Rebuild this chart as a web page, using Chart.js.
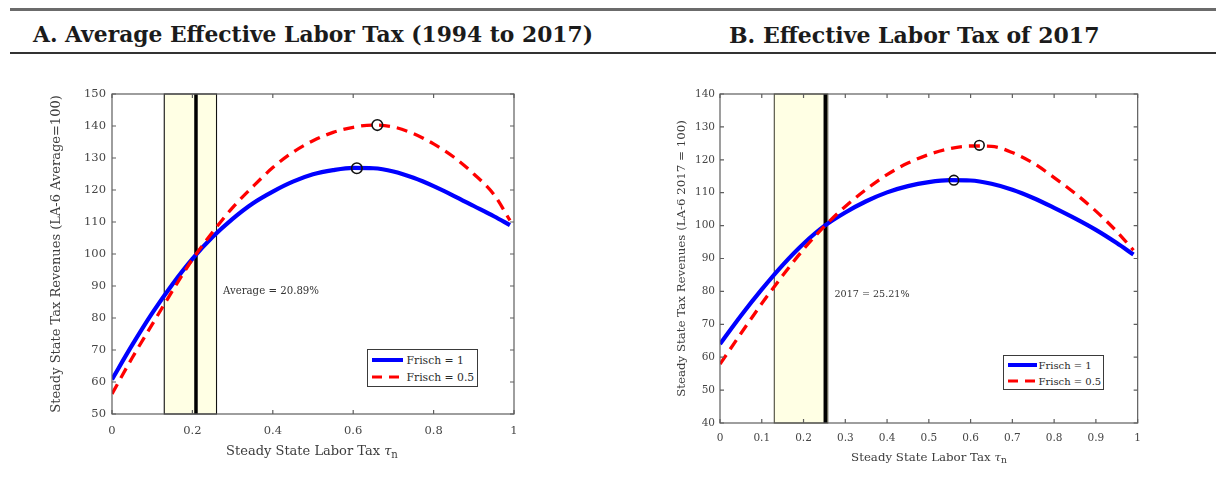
<!DOCTYPE html>
<html>
<head>
<meta charset="utf-8">
<script src="https://cdn.jsdelivr.net/npm/chart.js@4.4.1/dist/chart.umd.min.js"></script>
<style>
  html, body { margin:0; padding:0; background:#fff; }
  body { width:1216px; height:494px; overflow:hidden; position:relative; font-family:"DejaVu Serif", serif; }
  .abs { position:absolute; }
  .hline { position:absolute; left:10px; right:0; }
  .ptitle { position:absolute; top:24px; line-height:22px; font-family:"DejaVu Serif", serif; font-weight:bold; font-size:22px; color:#1b1b1b; white-space:nowrap; }
  .xtitle { position:absolute; white-space:nowrap; color:#3c3c3c; font-family:"DejaVu Serif", serif; transform:translateX(-50%); }
  .xtitle sub { font-size:0.78em; position:relative; top:0.25em; vertical-align:baseline; }
  .legend { position:absolute; box-sizing:border-box; border:1px solid #3a3a3a; background:#fff; }
  .legend svg { position:absolute; overflow:visible; }
  .legend span { position:absolute; white-space:nowrap; color:#2a2a2a; font-family:"DejaVu Serif", serif; transform:translateY(-50%); }
</style>
</head>
<body>
<div class="hline" style="top:8px;height:2.5px;background:#6b6b6b"></div>
<div class="ptitle" id="titleA" style="left:33px;font-size:21.8px"></div>
<div class="ptitle" id="titleB" style="left:729px"></div>
<div class="hline" style="top:52px;height:2px;background:#333"></div>

<div class="abs" style="left:20px;top:80px;width:510px;height:400px"><canvas id="chartA" width="510" height="400" style="width:510px;height:400px"></canvas></div>
<div class="abs" style="left:630px;top:80px;width:520px;height:400px"><canvas id="chartB" width="520" height="400" style="width:520px;height:400px"></canvas></div>

<div class="xtitle" id="xtitleA" style="left:312px;top:443px;font-size:13px;line-height:15px"></div>
<div class="xtitle" id="xtitleB" style="left:929px;top:450px;font-size:11.8px;line-height:14px"></div>

<div class="legend" id="legendA" style="left:367px;top:349px;width:111px;height:38px"></div>
<div class="legend" id="legendB" style="left:1003px;top:355px;width:101px;height:35px"></div>

<script>
// ---------- DATA ----------
const panelTitles = ['A. Average Effective Labor Tax (1994 to 2017)', 'B. Effective Labor Tax of 2017'];
const seriesNames = ['Frisch = 1', 'Frisch = 0.5'];
const xAxisTitle = 'Steady State Labor Tax';
const yTitleA = 'Steady State Tax Revenues (LA-6 Average=100)';
const yTitleB = 'Steady State Tax Revenues (LA-6 2017 = 100)';

// labor tax grid (x values)
const laborTax = [0, 0.05, 0.1, 0.15, 0.2, 0.25, 0.3, 0.35, 0.4, 0.45, 0.5, 0.55, 0.6, 0.65, 0.7, 0.75, 0.8, 0.85, 0.9, 0.95, 0.99];

// Panel A: average effective labor tax
const revenueA_frisch1  = [60.8, 71.5, 81.5, 90.5, 98.5, 105.3, 111.0, 115.8, 119.5, 122.6, 124.9, 126.2, 126.9, 126.8, 125.8, 123.8, 121.2, 118.2, 115.0, 111.8, 109.0];
const revenueA_frisch05 = [56.3, 67.5, 78.0, 88.4, 98.3, 106.8, 114.5, 121.0, 127.0, 131.8, 135.4, 138.0, 139.6, 140.3, 139.7, 137.6, 134.4, 130.3, 125.0, 118.6, 110.5];
const peakA = [{x:0.609, y:126.8}, {x:0.66, y:140.3}];
const bandA = [0.13, 0.26];
const taxA = 0.2089;
const noteA = 'Average = 20.89%';
const notePosA = [0.276, 88.4];
const xTicksA = [0, 0.2, 0.4, 0.6, 0.8, 1];
const xTickLabelsA = ['0', '0.2', '0.4', '0.6', '0.8', '1'];
const yTicksA = [50, 60, 70, 80, 90, 100, 110, 120, 130, 140, 150];

// Panel B: effective labor tax of 2017
const revenueB_frisch1  = [64.0, 72.6, 80.6, 88.0, 94.5, 99.9, 104.0, 107.4, 110.1, 112.0, 113.2, 113.8, 113.7, 112.7, 110.9, 108.4, 105.4, 102.2, 98.7, 94.7, 91.2];
const revenueB_frisch05 = [57.9, 67.2, 76.3, 84.8, 92.8, 99.8, 105.8, 111.0, 115.5, 119.0, 121.6, 123.4, 124.2, 124.1, 122.2, 119.0, 114.6, 109.8, 104.4, 98.2, 92.5];
const peakB = [{x:0.56, y:113.8}, {x:0.621, y:124.4}];
const bandB = [0.13, 0.258];
const taxB = 0.2521;
const noteB = '2017 = 25.21%';
const notePosB = [0.274, 79.2];
const xTicksB = [0, 0.1, 0.2, 0.3, 0.4, 0.5, 0.6, 0.7, 0.8, 0.9, 1];
const xTickLabelsB = ['0', '0.1', '0.2', '0.3', '0.4', '0.5', '0.6', '0.7', '0.8', '0.9', '1'];
const yTicksB = [40, 50, 60, 70, 80, 90, 100, 110, 120, 130, 140];

// ---------- TEXT ----------
document.getElementById('titleA').textContent = panelTitles[0];
document.getElementById('titleB').textContent = panelTitles[1];
for (const id of ['xtitleA', 'xtitleB']) {
  const el = document.getElementById(id);
  el.appendChild(document.createTextNode(xAxisTitle + ' '));
  const t = document.createElement('i'); t.textContent = 'τ'; el.appendChild(t);
  const s = document.createElement('sub'); s.textContent = 'n'; el.appendChild(s);
}

function buildLegend(id, rowsY, x0, x1, tx, fs) {
  const box = document.getElementById(id);
  const styles = [{c:'#0000ff', w:4, dash:''}, {c:'#ff0000', w:3.2, dash:'10 7'}];
  seriesNames.forEach((name, i) => {
    const svgNS = 'http://www.w3.org/2000/svg';
    const svg = document.createElementNS(svgNS, 'svg');
    svg.setAttribute('width', x1 - x0); svg.setAttribute('height', 8);
    svg.style.left = x0 + 'px'; svg.style.top = (rowsY[i] - 4) + 'px';
    const ln = document.createElementNS(svgNS, 'line');
    ln.setAttribute('x1', 0); ln.setAttribute('x2', x1 - x0);
    ln.setAttribute('y1', 4); ln.setAttribute('y2', 4);
    ln.setAttribute('stroke', styles[i].c); ln.setAttribute('stroke-width', styles[i].w);
    if (styles[i].dash) ln.setAttribute('stroke-dasharray', styles[i].dash);
    svg.appendChild(ln); box.appendChild(svg);
    const sp = document.createElement('span');
    sp.textContent = name; sp.style.left = tx + 'px'; sp.style.top = rowsY[i] + 'px';
    sp.style.fontSize = fs + 'px';
    box.appendChild(sp);
  });
}
buildLegend('legendA', [10, 27.3], 4, 35, 38.5, 10.8);
buildLegend('legendB', [8.7, 25.3], 4, 33, 34.5, 10);

// ---------- CHARTS ----------
function makeChart(id, cfg) {
  const yMin = cfg.yTicks[0], yMax = cfg.yTicks[cfg.yTicks.length - 1];
  const pts = arr => laborTax.map((t, i) => ({x: t, y: arr[i]}));

  const bandPlugin = {
    id: 'band' + id,
    beforeDatasetsDraw(chart) {
      const {ctx, chartArea: a, scales: {x}} = chart;
      const l = x.getPixelForValue(cfg.band[0]), r = x.getPixelForValue(cfg.band[1]);
      ctx.save();
      ctx.fillStyle = '#ffffe4';
      ctx.fillRect(l, a.top, r - l, a.bottom - a.top);
      ctx.strokeStyle = cfg.bandEdge; ctx.lineWidth = 1.1;
      ctx.strokeRect(l, a.top, r - l, a.bottom - a.top);
      ctx.restore();
    }
  };
  const framePlugin = {
    id: 'frame' + id,
    afterDatasetsDraw(chart) {
      const {ctx, chartArea: a, scales: {x, y}} = chart;
      ctx.save();
      ctx.fillStyle = '#333';
      ctx.font = cfg.noteFont + 'px "DejaVu Serif"';
      ctx.textAlign = 'left'; ctx.textBaseline = 'middle';
      ctx.fillText(cfg.note, x.getPixelForValue(cfg.notePos[0]), y.getPixelForValue(cfg.notePos[1]));
      ctx.strokeStyle = '#5e5e5e'; ctx.lineWidth = 1.2;
      ctx.strokeRect(a.left, a.top, a.right - a.left, a.bottom - a.top);
      const tl = 4;
      ctx.beginPath();
      cfg.xTicks.forEach(v => {
        const px = x.getPixelForValue(v);
        ctx.moveTo(px, a.bottom); ctx.lineTo(px, a.bottom - tl);
        ctx.moveTo(px, a.top); ctx.lineTo(px, a.top + tl);
      });
      cfg.yTicks.forEach(v => {
        const py = y.getPixelForValue(v);
        ctx.moveTo(a.left, py); ctx.lineTo(a.left + tl, py);
        ctx.moveTo(a.right, py); ctx.lineTo(a.right - tl, py);
      });
      ctx.stroke();
      ctx.restore();
    }
  };

  return new Chart(document.getElementById(id), {
    type: 'line',
    data: {
      datasets: [
        { type: 'scatter', label: 'max', data: cfg.peaks, showLine: false,
          pointRadius: cfg.markerR, pointBorderColor: '#111', pointBackgroundColor: 'rgba(0,0,0,0)', pointBorderWidth: 1.6 },
        { label: seriesNames[1], data: pts(cfg.red), borderColor: '#ff0000', borderWidth: 3.3,
          borderDash: [11, 7], pointRadius: 0, cubicInterpolationMode: 'monotone', fill: false },
        { label: seriesNames[0], data: pts(cfg.blue), borderColor: '#0000ff', borderWidth: 4.2,
          pointRadius: 0, cubicInterpolationMode: 'monotone', fill: false },
        { label: 'tax', data: [{x: cfg.tax, y: yMin}, {x: cfg.tax, y: yMax}], borderColor: '#000',
          borderWidth: 3.5, pointRadius: 0, fill: false }
      ]
    },
    options: {
      responsive: false, animation: false, events: [],
      layout: { padding: { left: 0, top: 14, right: cfg.padRight, bottom: 0 } },
      plugins: { legend: { display: false }, tooltip: { enabled: false } },
      scales: {
        x: {
          type: 'linear', min: 0, max: 1,
          grid: { display: false, drawTicks: false }, border: { display: false },
          afterBuildTicks: s => { s.ticks = cfg.xTicks.map(v => ({value: v})); },
          afterFit: s => { s.height = cfg.xH; },
          ticks: { padding: cfg.xPad, autoSkip: false, maxRotation: 0, color: '#454545',
                   font: { family: 'DejaVu Serif', size: cfg.tickFont },
                   callback: (v, i) => cfg.xLabels[i] }
        },
        y: {
          type: 'linear', min: yMin, max: yMax,
          grid: { display: false, drawTicks: false }, border: { display: false },
          afterBuildTicks: s => { s.ticks = cfg.yTicks.map(v => ({value: v})); },
          afterFit: s => { s.width = cfg.yW; },
          ticks: { padding: cfg.yPad, color: '#454545', font: { family: 'DejaVu Serif', size: cfg.tickFont },
                   callback: v => String(v) },
          title: { display: true, text: cfg.yTitle, color: '#3c3c3c',
                   font: { family: 'DejaVu Serif', size: cfg.titleFont },
                   padding: { top: cfg.yTitlePad, bottom: 0 } }
        }
      }
    },
    plugins: [bandPlugin, framePlugin]
  });
}

makeChart('chartA', {
  blue: revenueA_frisch1, red: revenueA_frisch05, peaks: peakA, band: bandA, tax: taxA,
  note: noteA, notePos: notePosA, noteFont: 10.2, bandEdge: '#111',
  xTicks: xTicksA, xLabels: xTickLabelsA, yTicks: yTicksA, yTitle: yTitleA,
  padRight: 16, xH: 66, yW: 92, xPad: 10, yPad: 6, tickFont: 11.5, titleFont: 13, yTitlePad: 29, markerR: 5.3
});
makeChart('chartB', {
  blue: revenueB_frisch1, red: revenueB_frisch05, peaks: peakB, band: bandB, tax: taxB,
  note: noteB, notePos: notePosB, noteFont: 9.6, bandEdge: '#4a4a3a',
  xTicks: xTicksB, xLabels: xTickLabelsB, yTicks: yTicksB, yTitle: yTitleB,
  padRight: 11, xH: 57, yW: 90, xPad: 9, yPad: 5, tickFont: 10.5, titleFont: 11.8, yTitlePad: 44.5, markerR: 4.8
});
</script>
</body>
</html>
